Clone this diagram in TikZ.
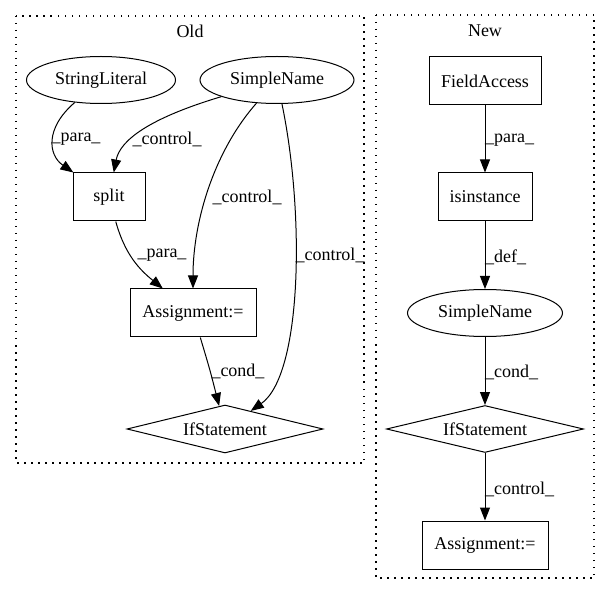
\documentclass[tikz,border=0pt]{standalone}
\usepackage{fontspec}
\setmainfont{Liberation Serif}
\usetikzlibrary{arrows.meta,shapes.geometric}
\begin{document}
\begin{tikzpicture}[x=1pt,y=-1pt,
  every node/.style={font=\fontsize{18}{21}\selectfont},
  base/.style={draw,line width=1pt,inner sep=0pt},
  boxn/.style={base,rectangle},
  elln/.style={base,ellipse},
  diam/.style={base,diamond,aspect=4},
  arr/.style={line width=1pt,-{Triangle[length=13pt,width=10pt]}},
  lbl/.style={inner sep=0pt,fill=none},
  clus/.style={line width=1.1pt,dash pattern=on 1.5pt off 5.5pt}]
\useasboundingbox (0,0) rectangle (611,596);
% clusters
\draw[clus] (16,16) rectangle (364,463);
\draw[clus] (376,15) rectangle (594,578);
\node[lbl] (oldt) at (190,31) {Old};
\node[lbl] (newt) at (485,31) {New};
% Old nodes
\node[elln,minimum width=149pt,minimum height=47pt] (sl) at (101,80) {StringLiteral};
\node[elln,minimum width=154pt,minimum height=47pt] (sn) at (277,80) {SimpleName};
\node[boxn,minimum width=72pt,minimum height=48pt] (split) at (109,197) {split};
\node[boxn,minimum width=126pt,minimum height=48pt] (asg) at (193,313) {Assignment:=};
\node[diam,minimum width=196pt,minimum height=48pt] (ifo) at (225,429) {IfStatement};
% Old edges
\draw[arr] (sl) .. controls (45,128) and (48,155) .. (split);
\node[lbl] (l1) at (76,139) {\_para\_};
\draw[arr] (sn) .. controls (150,118) and (120,140) .. (split);
\node[lbl] (l2) at (167,139) {\_control\_};
\draw[arr] (sn) .. controls (215,150) and (193,220) .. (asg);
\node[lbl] (l3) at (247,197) {\_control\_};
\draw[arr] (sn) .. controls (305,215) and (302,375) .. (ifo);
\node[lbl] (l4) at (330,255) {\_control\_};
\draw[arr] (split) .. controls (125,255) and (140,270) .. (asg);
\node[lbl] (l5) at (162,255) {\_para\_};
\draw[arr] (asg) .. controls (210,370) .. (ifo);
\node[lbl] (l6) at (238,371) {\_cond\_};
% New nodes
\node[boxn,minimum width=112pt,minimum height=48pt] (fa) at (485,81) {FieldAccess};
\node[boxn,minimum width=94pt,minimum height=48pt] (isi) at (485,197) {isinstance};
\node[elln,minimum width=155pt,minimum height=47pt] (sn2) at (485,313) {SimpleName};
\node[diam,minimum width=197pt,minimum height=47pt] (ifn) at (485,429) {IfStatement};
\node[boxn,minimum width=126pt,minimum height=48pt] (asg2) at (485,545) {Assignment:=};
% New edges
\draw[arr] (fa) -- (isi);
\node[lbl,anchor=west] (n1) at (485,140) {\_para\_};
\draw[arr] (isi) -- (sn2);
\node[lbl,anchor=west] (n2) at (485,257) {\_def\_};
\draw[arr] (sn2) -- (ifn);
\node[lbl,anchor=west] (n3) at (485,372) {\_cond\_};
\draw[arr] (ifn) -- (asg2);
\node[lbl,anchor=west] (n4) at (485,489) {\_control\_};
\end{tikzpicture}
\end{document}
